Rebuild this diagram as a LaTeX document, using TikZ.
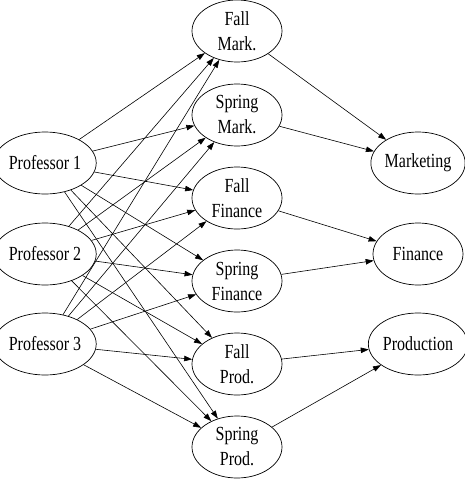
\documentclass[tikz,border=0pt]{standalone}
\usepackage{fontspec}
\setmainfont[FakeStretch=0.8]{Liberation Serif}
\usetikzlibrary{arrows.meta,shapes.geometric}
\begin{document}
\begin{tikzpicture}[x=1pt,y=-1pt,
  nd/.style={draw,ellipse,minimum width=90pt,minimum height=62pt,inner sep=0pt,
    align=center,font=\fontsize{20}{25}\selectfont,line width=0.7pt},
  ar/.style={-{Triangle[length=8pt,width=5.5pt]},line width=0.6pt}]
\useasboundingbox (0,0) rectangle (465,480);
\node[nd] (p1) at (45,163) {Professor 1};
\node[nd] (p2) at (45,254) {Professor 2};
\node[nd] (p3) at (45,344) {Professor 3};
\node[nd] (fm) at (237,31) {Fall\\Mark.};
\node[nd] (sm) at (237,115) {Spring\\Mark.};
\node[nd] (ff) at (237,198) {Fall\\Finance};
\node[nd] (sf) at (237,281) {Spring\\Finance};
\node[nd] (fp) at (237,364) {Fall\\Prod.};
\node[nd] (sp) at (237,447) {Spring\\Prod.};
\node[nd] (mk) at (418,163) {Marketing};
\node[nd] (fi) at (418,254) {Finance};
\node[nd] (pr) at (418,344) {Production};
\foreach \p in {p1,p2,p3}{
  \foreach \m in {fm,sm,ff,sf,fp,sp}{
    \draw[ar] (\p) -- (\m);
  }
}
\draw[ar] (fm) -- (mk);
\draw[ar] (sm) -- (mk);
\draw[ar] (ff) -- (fi);
\draw[ar] (sf) -- (fi);
\draw[ar] (fp) -- (pr);
\draw[ar] (sp) -- (pr);
\end{tikzpicture}
\end{document}
